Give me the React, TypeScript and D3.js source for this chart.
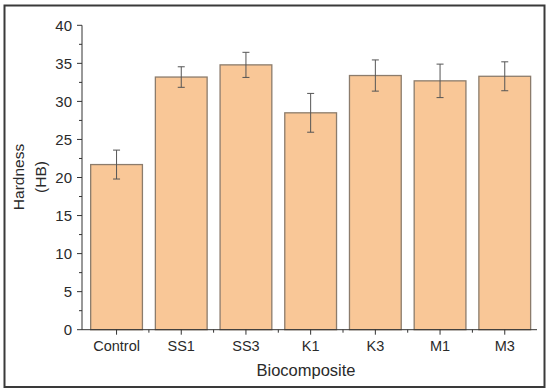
import React, { useEffect, useRef } from 'react';
import * as d3 from 'd3';

// data
const categories = ['Control', 'SS1', 'SS3', 'K1', 'K3', 'M1', 'M3'];
const hardness = [21.7, 33.2, 34.8, 28.5, 33.4, 32.7, 33.3];
const hardnessErr = [1.9, 1.35, 1.65, 2.55, 2.05, 2.2, 1.9];
const yTicks = [0, 5, 10, 15, 20, 25, 30, 35, 40];

const W = 550;
const H = 392;

const App = () => {
  const svgRef = useRef(null);

  useEffect(() => {
    const svg = d3.select(svgRef.current);
    svg.selectAll('*').remove();

    const font = 'Liberation Sans, Arial, sans-serif';
    const axisColor = '#333';
    const textColor = '#2a2a2a';

    // outer frame
    svg.append('rect')
      .attr('x', 4.5).attr('y', 5.5)
      .attr('width', 540).attr('height', 381.5)
      .attr('fill', 'white')
      .attr('stroke', '#3a3a3a')
      .attr('stroke-width', 2);

    const left = 82;
    const y = d3.scaleLinear().domain([0, 40]).range([329.7, 25.3]);
    const x = d3.scaleBand()
      .domain(categories)
      .range([84.2, 537.1])
      .paddingInner(0.2)
      .paddingOuter(0.1);

    const g = svg.append('g');

    // bars
    g.selectAll('rect.bar')
      .data(categories)
      .enter()
      .append('rect')
      .attr('class', 'bar')
      .attr('x', d => x(d))
      .attr('width', x.bandwidth())
      .attr('y', (d, i) => y(hardness[i]))
      .attr('height', (d, i) => y(0) - y(hardness[i]))
      .attr('fill', '#F9C797')
      .attr('stroke', '#8c7c6c')
      .attr('stroke-width', 1.3);

    // error bars
    const errG = g.append('g').attr('stroke', '#555').attr('stroke-width', 1);
    categories.forEach((c, i) => {
      const cx = x(c) + x.bandwidth() / 2;
      const hi = y(hardness[i] + hardnessErr[i]);
      const lo = y(hardness[i] - hardnessErr[i]);
      errG.append('line').attr('x1', cx).attr('x2', cx).attr('y1', hi).attr('y2', lo);
      errG.append('line').attr('x1', cx - 3.5).attr('x2', cx + 3.5).attr('y1', hi).attr('y2', hi);
      errG.append('line').attr('x1', cx - 3.5).attr('x2', cx + 3.5).attr('y1', lo).attr('y2', lo);
    });

    // y axis
    const ya = svg.append('g').attr('stroke', axisColor).attr('stroke-width', 1);
    ya.append('line').attr('x1', left).attr('x2', left).attr('y1', y(0)).attr('y2', y(40));
    d3.range(0, 40.01, 2.5).forEach(v => {
      const major = v % 5 === 0;
      ya.append('line')
        .attr('x1', left - (major ? 5 : 3)).attr('x2', left)
        .attr('y1', y(v)).attr('y2', y(v));
    });
    svg.append('g').selectAll('text')
      .data(yTicks)
      .enter()
      .append('text')
      .attr('x', left - 10)
      .attr('y', d => y(d))
      .attr('dy', '0.36em')
      .attr('text-anchor', 'end')
      .style('font-family', font)
      .style('font-size', '15px')
      .style('fill', textColor)
      .text(d => d);

    // x axis
    const xa = svg.append('g').attr('stroke', axisColor).attr('stroke-width', 1);
    xa.append('line').attr('x1', left).attr('x2', 537).attr('y1', y(0)).attr('y2', y(0));
    categories.forEach((c, i) => {
      const cx = x(c) + x.bandwidth() / 2;
      xa.append('line').attr('x1', cx).attr('x2', cx).attr('y1', y(0)).attr('y2', y(0) + 5);
      if (i > 0) {
        const bx = cx - x.step() / 2;
        xa.append('line').attr('x1', bx).attr('x2', bx).attr('y1', y(0)).attr('y2', y(0) + 3);
      }
    });
    svg.append('g').selectAll('text')
      .data(categories)
      .enter()
      .append('text')
      .attr('x', d => x(d) + x.bandwidth() / 2)
      .attr('y', 351)
      .attr('text-anchor', 'middle')
      .style('font-family', font)
      .style('font-size', '14.5px')
      .style('fill', textColor)
      .text(d => d);

    // axis titles
    svg.append('text')
      .attr('x', 306)
      .attr('y', 376)
      .attr('text-anchor', 'middle')
      .style('font-family', font)
      .style('font-size', '16.5px')
      .style('fill', textColor)
      .text('Biocomposite');

    svg.append('text')
      .attr('transform', 'translate(24,177) rotate(-90)')
      .attr('text-anchor', 'middle')
      .style('font-family', font)
      .style('font-size', '15.5px')
      .style('fill', textColor)
      .text('Hardness');
    svg.append('text')
      .attr('transform', 'translate(46,177) rotate(-90)')
      .attr('text-anchor', 'middle')
      .style('font-family', font)
      .style('font-size', '15.5px')
      .style('fill', textColor)
      .text('(HB)');
  }, []);

  return (
    <svg ref={svgRef} width={W} height={H} style={{ position: 'absolute', left: 0, top: 0 }}></svg>
  );
};

export default App;
